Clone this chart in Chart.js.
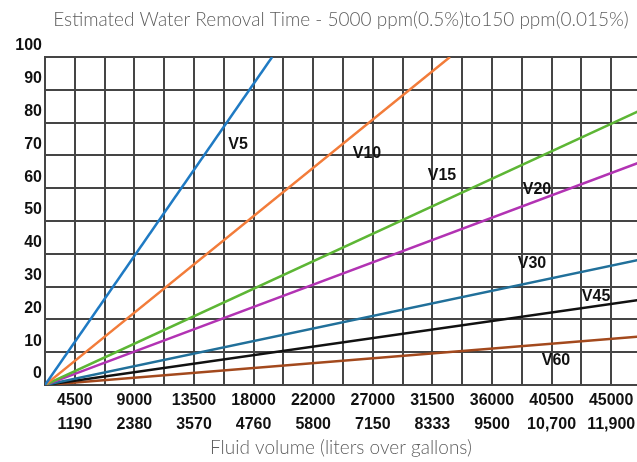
<!DOCTYPE html>
<html><head><meta charset="utf-8">
<script src="https://cdn.jsdelivr.net/npm/chart.js@4.4.1/dist/chart.umd.min.js"></script>
<style>html,body{margin:0;padding:0;background:#fff;overflow:hidden}#wrap{width:637px;height:462px;position:relative}</style>
</head><body><div id="wrap"><canvas id="c"></canvas></div>
<script>
// ---- data ----
const litersLabels = ['4500','9000','13500','18000','22000','27000','31500','36000','40500','45000'];
const gallonLabels = ['1190','2380','3570','4760','5800','7150','8333','9500','10,700','11,900'];
const seriesNames  = ['V5','V10','V15','V20','V30','V45','V60'];
// each line runs straight from the origin to its end point (x along the volume axis, y on the 0-100 scale)
const endX = [17150, 30580, 45000, 45000, 45000, 45000, 45000];
const endY = [100, 100, 83.8, 68.0, 38.3, 26.0, 14.8];
// where each series name is written (same data units)
const labelX = [14575, 24310, 29975, 37150, 36770, 41610, 38580];
const labelY = [73.4, 70.7, 63.7, 59.7, 36.9, 27.1, 7.3];
const yTickValues = [0,10,20,30,40,50,60,70,80,90,100];
const xGridStep = 2250;
const xAxisMax = 44700;

const seriesColors = ['#1f7ac3','#f27c3a','#5db635','#b233b3','#21709a','#111111','#a3491d'];
const gridColor = '#454545';

const datasets = seriesNames.map((n, i) => ({
  label: n,
  data: [{x: 0, y: 0}, {x: endX[i], y: endY[i]}],
  borderColor: seriesColors[i],
  borderWidth: 2.5,
  pointRadius: 0,
  fill: false,
  tension: 0
}));

const seriesLabelPlugin = {
  id: 'seriesLabels',
  afterDatasetsDraw(chart) {
    const {ctx, scales: {x, y}} = chart;
    ctx.save();
    ctx.font = 'bold 16px "Liberation Sans", Arial, sans-serif';
    ctx.fillStyle = '#111';
    ctx.textAlign = 'center';
    ctx.textBaseline = 'middle';
    seriesNames.forEach((n, i) => {
      ctx.fillText(n, x.getPixelForValue(labelX[i]), y.getPixelForValue(labelY[i]));
    });
    ctx.restore();
  }
};

new Chart(document.getElementById('c'), {
  type: 'line',
  data: { datasets },
  plugins: [seriesLabelPlugin],
  options: {
    responsive: true,
    maintainAspectRatio: false,
    animation: false,
    layout: { padding: 0 },
    plugins: {
      legend: { display: false },
      tooltip: { enabled: false },
      title: {
        display: true,
        fullSize: false,
        text: 'Estimated Water Removal Time - 5000 ppm(0.5%)to150 ppm(0.015%)',
        color: '#5e5e5e',
        font: { family: 'Lato', size: 19, weight: '300', lineHeight: 1.2 },
        padding: { top: 8.6, bottom: 25.6 }
      }
    },
    scales: {
      x: {
        type: 'linear',
        min: 0,
        max: xAxisMax,
        afterBuildTicks(scale) {
          const t = [];
          for (let v = 0; v <= xAxisMax; v += xGridStep) t.push({ value: v });
          scale.ticks = t;
        },
        afterFit(scale) { scale.height = 77; scale.paddingLeft = 0; scale.paddingRight = 0; },
        grid: { color: gridColor, lineWidth: 2, drawTicks: false },
        border: { color: gridColor, width: 2 },
        ticks: {
          autoSkip: false,
          maxRotation: 0,
          padding: 4,
          color: '#111',
          font: { family: '"Liberation Sans", Arial, sans-serif', size: 16, weight: 'bold', lineHeight: 1.5 },
          callback(value) {
            const g = Math.round(value / xGridStep);
            if (g % 2 === 1) {
              const k = (g - 1) / 2;
              if (k < litersLabels.length) return [litersLabels[k], gallonLabels[k]];
            }
            return '';
          }
        },
        title: {
          display: true,
          text: 'Fluid volume (liters over gallons)',
          color: '#5e5e5e',
          font: { family: 'Lato', size: 19, weight: '300', lineHeight: 1.2 },
          padding: { top: 0, bottom: 2.5 }
        }
      },
      y: {
        min: 0,
        max: 100,
        afterBuildTicks(scale) { scale.ticks = yTickValues.map(v => ({ value: v })); },
        afterFit(scale) { scale.width = 45; },
        grid: { color: gridColor, lineWidth: 2, drawTicks: false },
        border: { color: gridColor, width: 2 },
        ticks: {
          padding: 3,
          labelOffset: -11,
          color: '#111',
          font: { family: '"Liberation Sans", Arial, sans-serif', size: 16, weight: 'bold' }
        }
      }
    }
  }
});
</script></body></html>
